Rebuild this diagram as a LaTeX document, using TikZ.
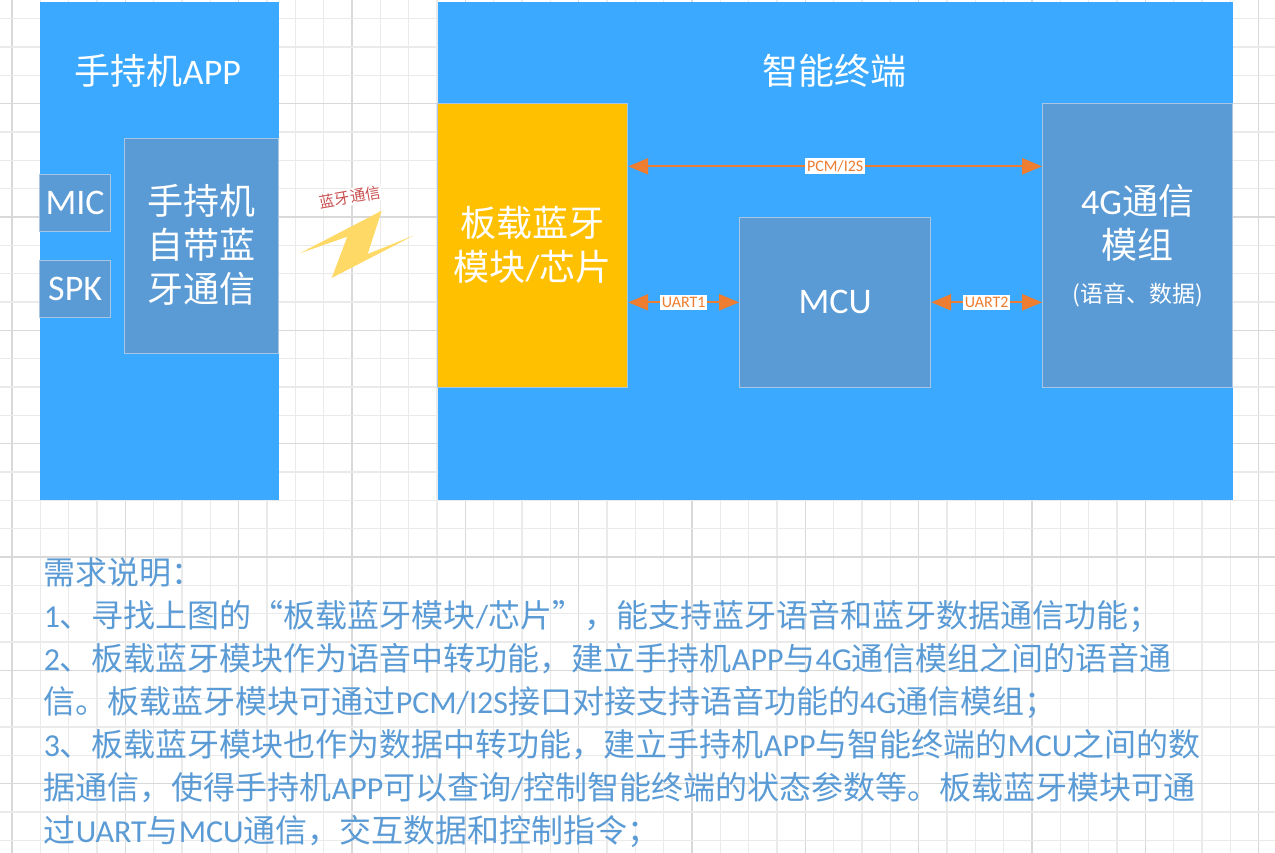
\documentclass[tikz,border=0pt]{standalone}
\usepackage{fontspec}
\usepackage{xcolor}
\usetikzlibrary{arrows.meta}
\setmainfont{Noto Sans CJK SC}
\newfontfamily\latin{Carlito}
\newcommand{\lat}[1]{{\latin #1}}
\definecolor{skyblue}{HTML}{3AA9FF}
\definecolor{steel}{HTML}{5B9BD5}
\definecolor{edgeblue}{HTML}{A8C6E4}
\definecolor{amber}{HTML}{FFC000}
\definecolor{boltyellow}{HTML}{FFD966}
\definecolor{wire}{HTML}{ED7D31}
\definecolor{radiored}{HTML}{C9504F}
\definecolor{gridfine}{HTML}{EAEAEA}
\definecolor{gridbold}{HTML}{D9D9D9}
\tikzset{
  box/.style={draw=edgeblue, line width=0.8pt, inner sep=0pt, anchor=north west, align=center, text=white, font=\fontsize{27}{33}\selectfont},
  outer/.style={box, fill=skyblue, draw=none},
  inner/.style={box, fill=steel, xshift=0.1pt, yshift=-0.6pt},
  title/.style={text=white, inner sep=0pt, font=\fontsize{27}{33}\selectfont},
  wirelabel/.style={fill=white, text=wire, inner sep=1.5pt, font=\latin\fontsize{12}{13}\selectfont},
  link/.style={{Triangle[length=15pt,width=12pt]}-{Triangle[length=15pt,width=12pt]}, wire, line width=1.6pt},
  gridline/.style={line width=1pt},
}
\begin{document}
\begin{tikzpicture}[x=0.75pt, y=-0.75pt]
   \useasboundingbox (1,1) rectangle (1276,854);
   % sheet grid, every fourth line darker
   \foreach \i in {0,...,44} {
     \pgfmathsetmacro{\gx}{13+28.33*\i}
     \pgfmathtruncatemacro{\m}{mod(\i,4)}
     \ifnum\m=0 \draw[gridline, gridbold] (\gx,1) -- (\gx,854); \else \draw[gridline, gridfine] (\gx,1) -- (\gx,854); \fi
   }
   \foreach \i in {0,...,29} {
     \pgfmathsetmacro{\gy}{19.7+28.33*\i}
     \pgfmathtruncatemacro{\m}{mod(\i+1,4)}
     \ifnum\m=0 \draw[gridline, gridbold] (1,\gy) -- (1276,\gy); \else \draw[gridline, gridfine] (1,\gy) -- (1276,\gy); \fi
   }

   \node[outer, minimum width=179.25pt, minimum height=373.5pt] (app) at (40,2) {};
   \node[outer, minimum width=596.25pt, minimum height=373.5pt] (term) at (438,2) {};
   \node[title] (apptitle) at (159,72) {手持机\lat{APP}};
   \node[title] (termtitle) at (835,72) {智能终端};

   \node[inner, text depth=3.5pt, minimum width=115.5pt, minimum height=161.25pt] (hand) at (125,138) {手持机\\自带蓝\\牙通信};
   \node[inner, minimum width=53.25pt, minimum height=42.75pt, font=\latin\fontsize{27}{33}\selectfont] (mic) at (40,174) {MIC};
   \node[inner, minimum width=53.25pt, minimum height=42.75pt, font=\latin\fontsize{27}{33}\selectfont] (spk) at (40,260) {SPK};

   \node[inner, fill=amber, text depth=3.5pt, minimum width=142.5pt, minimum height=213pt] (board) at (438,103) {板载蓝牙\\模块\lat{/}芯片};
   \node[inner, minimum width=143.25pt, minimum height=127.5pt, font=\latin\fontsize{27}{33}\selectfont] (mcu) at (740,217) {MCU};
   \node[inner, minimum width=142.5pt, minimum height=213pt] (lte) at (1043,103)
     {\lat{4G}通信\\模组\\[0pt]{\fontsize{17.2}{20}\selectfont (语音、数据)}};

   % links between the modules
   \draw[link] ([yshift=59.25pt]board.east) -- node[wirelabel] (pcm) {PCM/I2S} ([yshift=59.25pt]lte.west);
   \draw[link] (board.east |- mcu.west) -- node[wirelabel] (uart1) {UART1} (mcu.west);
   \draw[link] (mcu.east) -- node[wirelabel] (uart2) {UART2} (lte.west |- mcu.east);

   % radio link
   \fill[boltyellow] (300.7,254.3) -- (382.7,211.7) -- (368.7,255) -- (414.3,236.7) -- (332.7,279) -- (348.3,237.7) -- cycle;
   \node[fill=white, text=radiored, inner sep=1pt, rotate=10, font=\fontsize{11.5}{13}\selectfont] (radio) at (351,198) {蓝牙通信};

   \node[anchor=north west, align=left, inner sep=0pt, text=steel, font=\fontsize{24}{32.25}\selectfont] (notes) at (44.5,558.5) {%
     需求说明：\\
     \lat{1}、寻找上图的“板载蓝牙模块\lat{/}芯片”，能支持蓝牙语音和蓝牙数据通信功能；\\
     \lat{2}、板载蓝牙模块作为语音中转功能，建立手持机\lat{APP}与\lat{4G}通信模组之间的语音通\\
     信。板载蓝牙模块可通过\lat{PCM/I2S}接口对接支持语音功能的\lat{4G}通信模组；\\
     \lat{3}、板载蓝牙模块也作为数据中转功能，建立手持机\lat{APP}与智能终端的\lat{MCU}之间的数\\
     据通信，使得手持机\lat{APP}可以查询\lat{/}控制智能终端的状态参数等。板载蓝牙模块可通\\
     过\lat{UART}与\lat{MCU}通信，交互数据和控制指令；};
\end{tikzpicture}
\end{document}
